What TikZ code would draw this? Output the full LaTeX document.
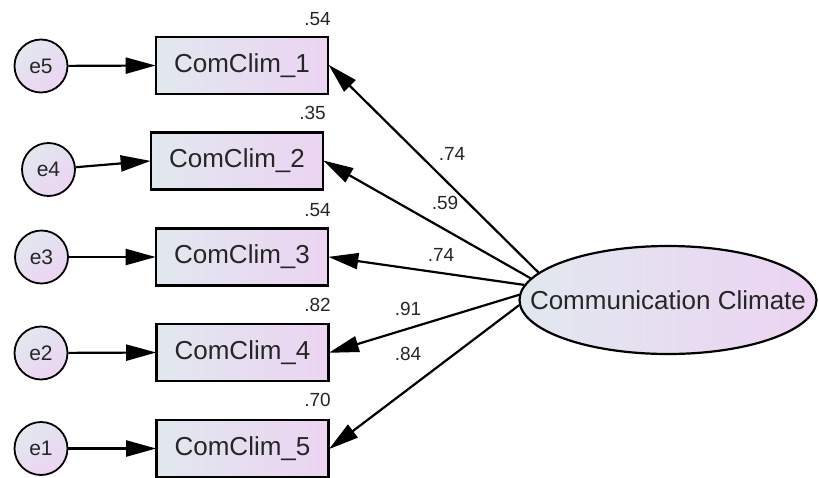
\documentclass[tikz,border=0pt]{standalone}
\usepackage{fontspec}
\setmainfont{Liberation Sans}
\usetikzlibrary{arrows.meta,shapes.geometric}
\definecolor{cl}{RGB}{225,232,238}
\definecolor{cr}{RGB}{236,212,243}
\tikzset{
  obsbox/.style={draw=black, line width=2.6pt, left color=cl, right color=cr,
    minimum width=172pt, minimum height=57pt, inner sep=0pt,
    font=\fontsize{26}{30}\selectfont, text=black!85},
  errc/.style={circle, draw=black, line width=1.8pt, top color=cl, bottom color=cr,
    shading angle=40, minimum size=53pt, inner sep=0pt,
    font=\fontsize{21}{24}\selectfont, text=black!85},
  latent/.style={ellipse, draw=black, line width=2.2pt, left color=cl, right color=cr,
    minimum width=297pt, minimum height=108pt, inner sep=0pt,
    font=\fontsize{26}{30}\selectfont, text=black!85},
  numlab/.style={inner sep=0pt, font=\fontsize{19}{22}\selectfont, text=black!85},
  arr/.style={line width=2.2pt, -{Triangle[length=30pt,width=16pt]}, shorten >=-1pt}
}
\begin{document}
\begin{tikzpicture}[x=1pt,y=-1pt]
\useasboundingbox (0,0) rectangle (819,477);
% observed boxes
\node[obsbox] (b1) at (242,65.5) {ComClim\_1};
\node[obsbox] (b2) at (237,161) {ComClim\_2};
\node[obsbox] (b3) at (242,257) {ComClim\_3};
\node[obsbox] (b4) at (242.5,352.5) {ComClim\_4};
\node[obsbox] (b5) at (242.5,448.5) {ComClim\_5};
% error circles
\node[errc] (e5) at (41,66) {e5};
\node[errc] (e4) at (48.5,169.5) {e4};
\node[errc] (e3) at (41.5,257) {e3};
\node[errc] (e2) at (41,353) {e2};
\node[errc] (e1) at (41,448.5) {e1};
% latent
\node[latent] (cc) at (668,300) {\makebox[0pt]{Communication Climate}};
% error arrows
\draw[arr] (e5) -- (b1.west);
\draw[arr] (e4) -- (b2.west);
\draw[arr] (e3) -- (b3.west);
\draw[arr] (e2) -- (b4.west);
\draw[arr] (e1) -- (b5.west);
% loadings
\draw[arr] (cc.168.4) -- (b1.east);
\draw[arr] (cc.171.1) -- (b2.east);
\draw[arr] (cc.174.9) -- (b3.east);
\draw[arr] (cc.178.9) -- (b4.east);
\draw[arr] (cc.182.7) -- (b5.east);
% R-squared labels
\node[numlab, anchor=east] (r1) at (331,19) {.54};
\node[numlab, anchor=east] (r2) at (326,112.5) {.35};
\node[numlab, anchor=east] (r3) at (331,210) {.54};
\node[numlab, anchor=east] (r4) at (331,305) {.82};
\node[numlab, anchor=east] (r5) at (331,400) {.70};
% loading labels
\node[numlab] (l1) at (452,154) {.74};
\node[numlab] (l2) at (445,203) {.59};
\node[numlab] (l3) at (441,255) {.74};
\node[numlab] (l4) at (408,309) {.91};
\node[numlab] (l5) at (408,354) {.84};
\end{tikzpicture}
\end{document}
